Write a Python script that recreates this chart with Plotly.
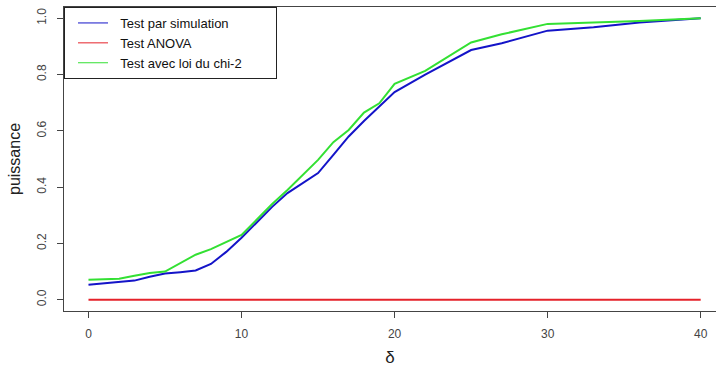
import plotly.graph_objects as go

delta = [0, 1, 2, 3, 4, 5, 6, 7, 8, 9, 10, 11, 12, 13, 14, 15, 16, 17, 18, 19, 20,
         22, 25, 27, 30, 33, 36, 40]
p_simulation = [0.053, 0.058, 0.063, 0.068, 0.082, 0.093, 0.098, 0.104, 0.127, 0.170,
                0.220, 0.275, 0.330, 0.379, 0.415, 0.450, 0.515, 0.580, 0.635, 0.688,
                0.738, 0.800, 0.887, 0.911, 0.956, 0.968, 0.985, 1.000]
p_anova = [0.0] * len(delta)
p_chi2 = [0.071, 0.072, 0.075, 0.085, 0.095, 0.100, 0.130, 0.160, 0.180, 0.205,
          0.230, 0.285, 0.340, 0.390, 0.445, 0.497, 0.560, 0.603, 0.665, 0.698,
          0.767, 0.813, 0.914, 0.943, 0.980, 0.985, 0.990, 1.000]

names = ["Test par simulation", "Test ANOVA", "Test avec loi du chi-2"]
colors = ["#1414C8", "#E5222A", "#33E033"]
series = [p_simulation, p_anova, p_chi2]

x_ticks = [0, 10, 20, 30, 40]
y_ticks = [0.0, 0.2, 0.4, 0.6, 0.8, 1.0]

FONT = "Arial, Liberation Sans, sans-serif"
AX = "#444444"
NB = "\u00a0"
longest = max(len(n) for n in names)

fig = go.Figure()
for name, col, ys in zip(names, colors, series):
    fig.add_trace(go.Scatter(x=delta, y=ys, mode="lines", name=name,
                             line=dict(color=col, width=2), showlegend=False))
for name, col in zip(names, colors):
    label = NB * 2 + name + (NB * 8 if len(name) == longest else "")
    fig.add_trace(go.Scatter(x=[None], y=[None], mode="lines", name=label,
                             line=dict(color=col, width=1)))

fig.update_layout(
    width=716, height=367,
    margin=dict(l=64, r=0, t=7, b=56),
    paper_bgcolor="white", plot_bgcolor="white",
    font=dict(family=FONT, color="#333333"),
    legend=dict(x=0, y=1, xanchor="left", yanchor="top",
                bordercolor="#222222", borderwidth=1, bgcolor="white",
                font=dict(size=13, color="#111111"),
                tracegroupgap=0, indentation=8),
    xaxis=dict(range=[-1.6, 41.0], tickvals=x_ticks, ticks="outside", ticklen=6,
               tickcolor=AX, showline=True, linecolor=AX, linewidth=1, mirror=True,
               showgrid=False, zeroline=False, tickfont=dict(size=12, color="#444444"),
               ticklabelstandoff=6,
               title=dict(text="δ", font=dict(size=17, color="#222222"), standoff=10)),
    yaxis=dict(range=[-0.04, 1.04], tickvals=y_ticks, tickformat=".1f", ticks="outside",
               ticklen=6, tickcolor=AX, showline=True, linecolor=AX, linewidth=1,
               showgrid=False, zeroline=False, tickangle=-90,
               tickfont=dict(size=12, color="#444444"), ticklabelstandoff=6,
               title=dict(text="puissance", font=dict(size=16, color="#222222"), standoff=10)),
)

fig.write_html("out.html")
